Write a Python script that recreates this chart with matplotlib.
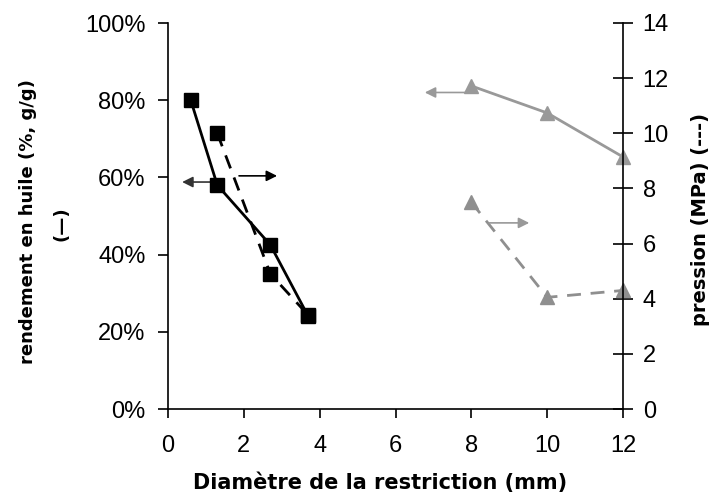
import numpy as np
import matplotlib
matplotlib.use('Agg')
import matplotlib.pyplot as plt
from matplotlib.ticker import PercentFormatter

plt.rcParams['font.family'] = ['Liberation Sans', 'DejaVu Sans']
plt.rcParams['font.size'] = 17

# black series: yield (left) and pressure (right)
d_small = [0.6, 1.3, 2.7, 3.7]
rend_small = [0.80, 0.58, 0.425, 0.24]
rend_err = [0.01, 0.015, 0.01, 0.015]
d_press_small = [1.3, 2.7, 3.7]
press_small = [10.0, 4.9, 3.4]

# grey series
d_large = [8, 10, 12]
rend_large = [0.837, 0.767, 0.653]
press_large = [7.5, 4.05, 4.3]

black = '#000000'
grey = '#999999'

fig = plt.figure(figsize=(7.13, 4.97), dpi=100)
ax = fig.add_axes([168/713, 88/497, 455/713, 386/497])
ax2 = ax.twinx()

ax.errorbar(d_small, rend_small, yerr=rend_err, color=black, lw=2, marker='s',
            ms=9.5, capsize=3, elinewidth=1, zorder=3)
ax.plot(d_large, rend_large, color=grey, lw=2, marker='^', ms=10, zorder=3,
        clip_on=False)

ax2.plot(d_press_small, press_small, color=black, lw=2, marker='s', ms=9.5,
         dashes=(5, 3.5))
ax2.plot(d_large, press_large, color='#8f8f8f', lw=2, marker='^', ms=10,
         dashes=(5, 3.5), clip_on=False)

# arrows pointing to the relevant axis
arr = dict(arrowstyle='-|>', lw=1.2, mutation_scale=16)
ax.annotate('', xy=(0.3, 0.588), xytext=(1.3, 0.588),
            arrowprops=dict(arr, color='#333333'))
ax.annotate('', xy=(2.95, 0.604), xytext=(1.8, 0.604),
            arrowprops=dict(arr, color=black))
ax.annotate('', xy=(6.7, 0.82), xytext=(7.9, 0.82),
            arrowprops=dict(arr, color=grey))
ax2.annotate('', xy=(9.6, 6.75), xytext=(8.4, 6.75),
             arrowprops=dict(arr, color=grey))

ax.set_xlim(0, 12)
ax.set_ylim(0, 1)
ax2.set_ylim(0, 14)
ax.set_xticks(np.arange(0, 13, 2))
ax.set_yticks(np.arange(0, 1.01, 0.2))
ax2.set_yticks(np.arange(0, 15, 2))
ax.yaxis.set_major_formatter(PercentFormatter(1.0, decimals=0))

for a in (ax, ax2):
    a.spines['top'].set_visible(False)
ax.spines['right'].set_visible(False)
ax2.spines['left'].set_visible(False)
ax2.spines['bottom'].set_visible(False)
for s in ('left', 'bottom'):
    ax.spines[s].set_linewidth(1.2)
ax2.spines['right'].set_linewidth(1.2)

ax.tick_params(axis='y', direction='out', length=7.2, width=1.2, pad=9)
ax.tick_params(axis='x', direction='out', length=6.5, width=1.2, pad=12)
ax2.tick_params(direction='inout', length=14.4, width=1.2, pad=7)

lab = dict(fontweight='bold', family='DejaVu Sans')
fig.text(380/713, 1 - 483/497, 'Diamètre de la restriction (mm)',
         ha='center', va='center', fontsize=15, **lab)
fig.text(28/713, 1 - 222/497, 'rendement en huile (%, g/g)', rotation=90,
         ha='center', va='center', fontsize=13, **lab)
fig.text(62/713, 1 - 224/497, '(—)', rotation=90,
         ha='center', va='center', fontsize=13, **lab)
fig.text(701/713, 1 - 219/497, 'pression (MPa) (---)', rotation=90,
         ha='center', va='center', fontsize=14, **lab)

fig.savefig('out.png', dpi=100)
